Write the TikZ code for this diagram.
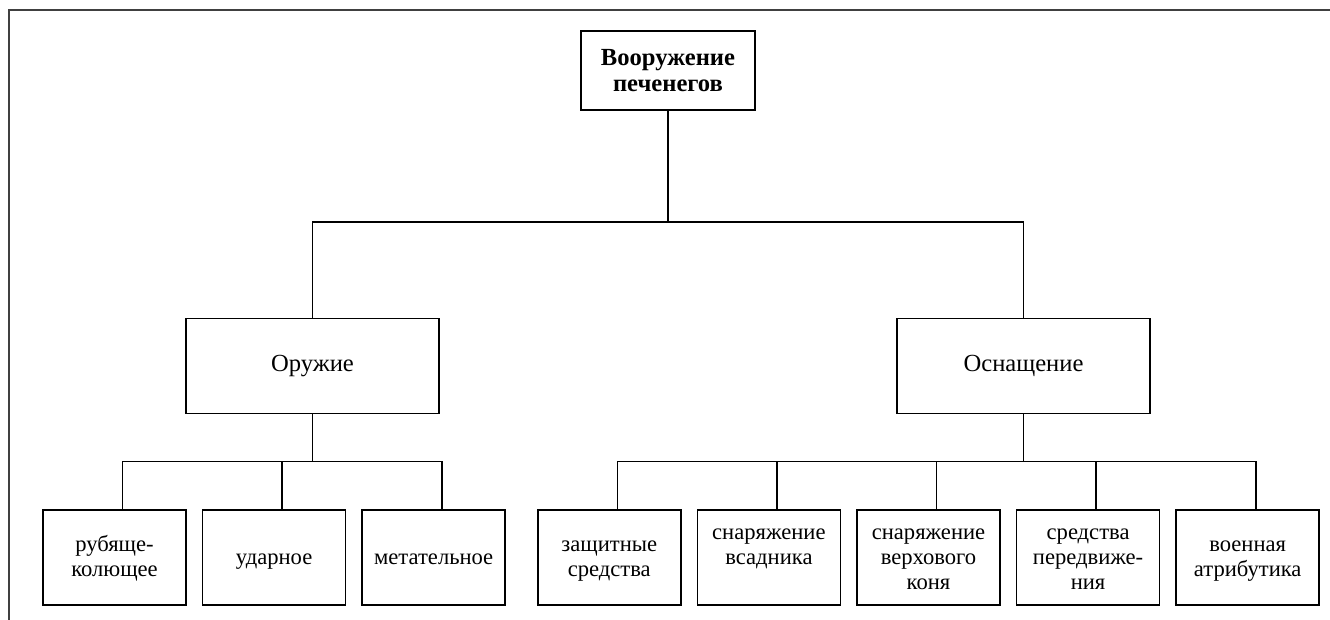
\documentclass[tikz,border=0pt]{standalone}
\usepackage{fontspec}
\setmainfont{Liberation Serif}
\usetikzlibrary{positioning}

% struts at the first and last line, so that the text sits as in the boxes of the scheme
\newcommand{\boxlines}[1]{\rule{0pt}{9.5pt}#1\rule[-3pt]{0pt}{0pt}}

\begin{document}
\begin{tikzpicture}[
	rootbox/.style={rectangle, draw, line width=0.8pt, align=center, minimum width=87pt, minimum height=39.5pt, font=\fontsize{12.3}{13}\selectfont\bfseries},
	midbox/.style={rectangle, draw, line width=0.8pt, align=center, minimum width=126.5pt, minimum height=47.5pt, font=\fontsize{12.3}{13}\selectfont},
	leafbox/.style={rectangle, draw, line width=0.8pt, align=center, inner sep=1pt, minimum width=71.5pt, minimum height=47.5pt, font=\fontsize{11.3}{12.6}\selectfont},
	link/.style={line width=0.8pt}
]

\useasboundingbox (0,0) rectangle (665pt,-310pt);
\draw[line width=1pt, black!75] (4.5pt,-310pt) -- (4.5pt,-5pt) -- (665pt,-5pt);

\node[rootbox] (root) at (334pt,-35.25pt) {Вооружение\\печенегов};
\node[midbox, below=103.5pt of root, xshift=-177.75pt] (weapon) {Оружие};
\node[midbox, below=103.5pt of root, xshift=177.75pt] (equip) {Оснащение};
\node[leafbox, below=47.5pt of weapon, xshift=-99pt] (cut) {\boxlines{рубяще-\\колющее}};
\node[leafbox, right=7.5pt of cut] (blunt) {\boxlines{ударное}};
\node[leafbox, right=7.5pt of blunt] (missile) {\boxlines{метательное}};
\node[leafbox, right=15.5pt of missile] (armour) {\boxlines{защитные\\средства}};
\node[leafbox, right=7.5pt of armour] (rider) {\boxlines{снаряжение\\всадника\\\mbox{}}};
\node[leafbox, right=7.5pt of rider] (horse) {\boxlines{снаряжение\\верхового\\коня}};
\node[leafbox, right=7.5pt of horse] (transport) {\boxlines{средства\\передвиже-\\ния}};
\node[leafbox, right=7.5pt of transport] (attrib) {\boxlines{военная\\атрибутика}};

\coordinate[below=55.5pt of root.south] (rootjoin);
\coordinate[below=23.5pt of weapon.south] (wjoin);
\coordinate[below=23.5pt of equip.south] (ejoin);

\foreach \i/\j in {root/rootjoin, weapon/wjoin, equip/ejoin}
	\draw[link] (\i) -- (\j);

\foreach \i in {weapon, equip}
	\draw[link] (rootjoin) -| (\i);

\foreach \i in {cut, blunt, missile}
	\draw[link] (wjoin) -| ([xshift=4pt]\i.north);

\foreach \i in {armour, rider, horse, transport, attrib}
	\draw[link] (ejoin) -| ([xshift=4pt]\i.north);

\end{tikzpicture}
\end{document}
